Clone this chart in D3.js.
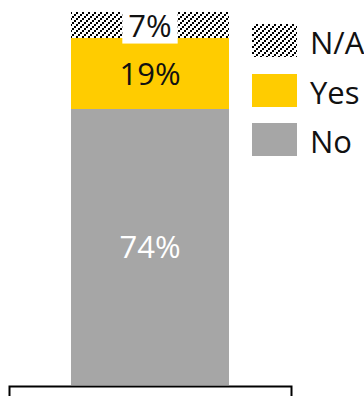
<!DOCTYPE html>
<html>
<head>
<meta charset="utf-8">
<script src="https://cdn.jsdelivr.net/npm/d3@7"></script>
<style>
  html, body { margin: 0; padding: 0; background: #fff; }
  svg { display: block; font-family: "Open Sans", sans-serif; font-weight: 400; }
</style>
</head>
<body>
<svg id="chart" width="364" height="396"></svg>
<script>
// Answer shares, stacked bottom-to-top
const categories = ["No", "Yes", "N/A"];
const values = [74, 19, 7];
const labels = ["74%", "19%", "7%"];
const fills = ["#A6A6A6", "#FFCC00", "url(#hatch)"];
const labelColors = ["#FFFFFF", "#111111", "#111111"];
// Legend order, top to bottom
const legendOrder = ["N/A", "Yes", "No"];

const svg = d3.select("#chart");
const fontSize = 31;

// Diagonal hatch used for the N/A segment: staircase of 2x2 blocks
const defs = svg.append("defs");
const pat = defs.append("pattern")
  .attr("id", "hatch")
  .attr("patternUnits", "userSpaceOnUse")
  .attr("width", 6).attr("height", 6);
pat.append("rect").attr("width", 6).attr("height", 6).attr("fill", "#fff");
[[4, 0], [2, 2], [0, 4]].forEach(([px, py]) => {
  pat.append("rect").attr("x", px).attr("y", py)
    .attr("width", 2).attr("height", 2)
    .attr("fill", "#000").attr("shape-rendering", "crispEdges");
});

const x = d3.scaleBand().domain([""]).range([9, 291]).padding(0.284);
const y = d3.scaleLinear().domain([0, 100]).range([385, 12]);

// Stack the segments
let acc = 0;
const segs = categories.map((c, i) => {
  const s = { cat: c, y0: acc, y1: acc + values[i], i };
  acc += values[i];
  return s;
});

const g = svg.append("g");
g.selectAll("rect.seg").data(segs).join("rect")
  .attr("class", "seg")
  .attr("x", x(""))
  .attr("width", x.bandwidth())
  .attr("y", d => y(d.y1))
  .attr("height", d => y(d.y0) - y(d.y1))
  .attr("fill", d => fills[d.i])
  .attr("shape-rendering", "crispEdges");

// Value labels
const cx = x("") + x.bandwidth() / 2;
segs.forEach(d => {
  const my = (y(d.y0) + y(d.y1)) / 2;
  const t = g.append("text")
    .attr("x", cx).attr("y", my)
    .attr("dy", "0.37em")
    .attr("text-anchor", "middle")
    .attr("font-size", fontSize)
    .attr("fill", labelColors[d.i])
    .text(labels[d.i]);
  if (d.cat === "N/A") {
    const bb = t.node().getBBox();
    g.insert("rect", () => t.node())
      .attr("x", cx - bb.width / 2 - 6)
      .attr("y", my - 18.5)
      .attr("width", bb.width + 12)
      .attr("height", 37)
      .attr("fill", "#fff");
  }
});

// Baseline axis with downward end ticks
svg.append("g")
  .attr("transform", "translate(0,386)")
  .call(d3.axisBottom(x).tickValues([]).tickSizeOuter(14))
  .call(a => a.select(".domain").attr("stroke", "#000").attr("stroke-width", 2));

// Legend
const leg = svg.append("g");
legendOrder.forEach((name, k) => {
  const i = categories.indexOf(name);
  const ly = 24 + k * 49.5;
  leg.append("rect")
    .attr("x", 252).attr("y", ly)
    .attr("width", 45).attr("height", 33)
    .attr("fill", fills[i])
    .attr("shape-rendering", "crispEdges");
  leg.append("text")
    .attr("x", 310).attr("y", ly + 16.5 + 13.5)
    .attr("font-size", fontSize)
    .attr("fill", "#111")
    .text(name);
});
</script>
</body>
</html>
